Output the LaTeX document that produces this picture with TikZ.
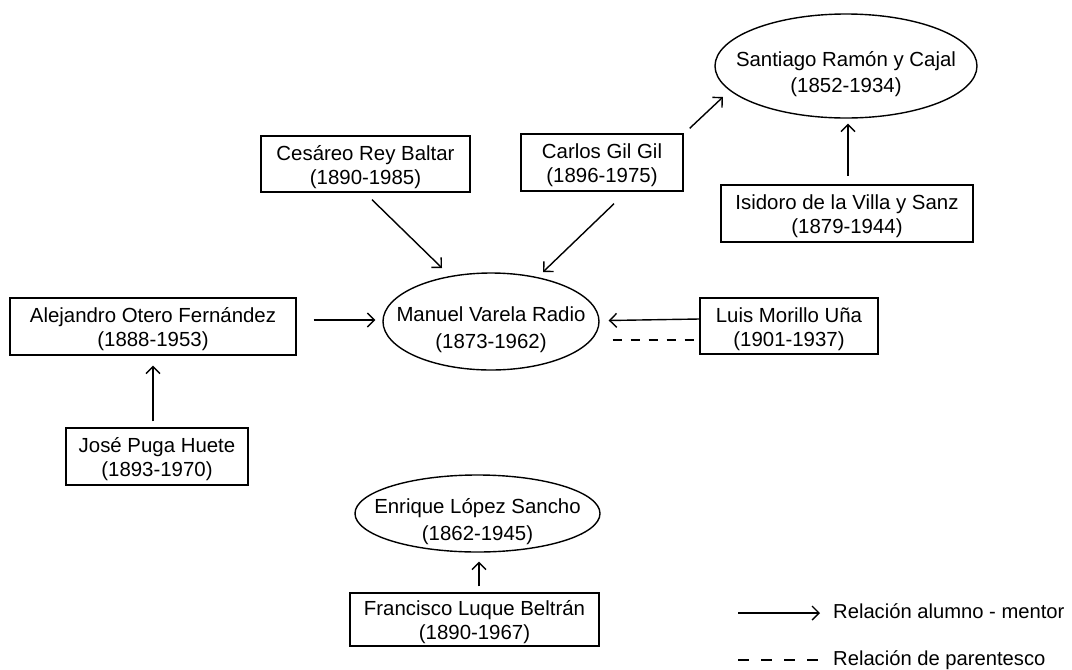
\documentclass[tikz,border=0pt]{standalone}
\usepackage{fontspec}
\setmainfont{Liberation Sans}
\usepackage{tikz}
\usetikzlibrary{shapes,arrows.meta,calc}

\tikzset{
  persona/.style={draw, line width=1.4pt, align=center, inner sep=0pt, font=\fontsize{20.4}{24}\selectfont, text height=40pt, text depth=0pt},
  maestro/.style={draw, ellipse, line width=1.4pt, align=center, inner xsep=-25pt, inner ysep=0pt, font=\fontsize{20.4}{26.5}\selectfont, text height=53pt, text depth=0pt},
  alumno/.style={line width=1.4pt, -{Straight Barb[length=7pt,width=14pt]}},
  parentesco/.style={line width=1.4pt, dash pattern=on 9pt off 9pt}
}

\begin{document}
\begin{tikzpicture}[x=1pt,y=-1pt,font=\fontsize{20.2}{24}\selectfont]
\useasboundingbox (0,0) rectangle (1072,670);

\node[maestro, minimum width=262pt, minimum height=104pt] (cajal) at (846,66) {Santiago Ramón y Cajal\\(1852-1934)};
\node[persona, minimum width=252pt, minimum height=57pt] (isidoro) at (847,213.5) {Isidoro de la Villa y Sanz\\(1879-1944)};
\node[persona, minimum width=162pt, minimum height=57pt] (carlos) at (602,162.5) {Carlos Gil Gil\\(1896-1975)};
\node[persona, minimum width=209pt, minimum height=56pt] (cesareo) at (365.5,164) {Cesáreo Rey Baltar\\(1890-1985)};
\node[maestro, minimum width=216pt, minimum height=97pt] (varela) at (491,321.5) {Manuel Varela Radio\\(1873-1962)};
\node[persona, minimum width=286pt, minimum height=57pt] (otero) at (153,326.5) {Alejandro Otero Fernández\\(1888-1953)};
\node[persona, minimum width=178pt, minimum height=56pt] (morillo) at (789,326) {Luis Morillo Uña\\(1901-1937)};
\node[persona, minimum width=182pt, minimum height=57pt] (puga) at (157,456.5) {José Puga Huete\\(1893-1970)};
\node[maestro, minimum width=245pt, minimum height=77pt] (lopez) at (477.5,513.5) {Enrique López Sancho\\(1862-1945)};
\node[persona, minimum width=249pt, minimum height=53pt] (luque) at (474.5,619.5) {Francisco Luque Beltrán\\(1890-1967)};

\draw[alumno] ($(isidoro.north)+(1,-8.5)$) -- ($(cajal.south)+(2,5)$);
\draw[alumno] ($(carlos.north east)+(6,-5)$) -- ($(cajal)+(-123,31)$);
\draw[alumno] ($(cesareo.south)+(6.5,7)$) -- ($(varela)+(-49,-53.5)$);
\draw[alumno] ($(carlos.south)+(12,12)$) -- ($(varela)+(52,-49.5)$);
\draw[alumno] ($(otero.east)+(17,-6.5)$) -- ($(varela.west)+(-7,-1.5)$);
\draw[alumno] ($(morillo.west)+(0,-7)$) -- ($(varela.east)+(9,-1)$);
\draw[parentesco] ($(varela.east)+(13,18.5)$) -- ($(morillo.west)+(0,14)$);
\draw[alumno] ($(puga.north)+(-4,-6)$) -- ($(otero.south)+(0,10)$);
\draw[alumno] ($(luque.north)+(4.5,-6)$) -- ($(lopez.south)+(1.5,9)$);

% leyenda
\coordinate (alumnoA) at (738,613);
\coordinate (alumnoB) at (820,613);
\coordinate (parentA) at (738,660);
\coordinate (parentB) at (820,660);
\draw[alumno] (alumnoA) -- (alumnoB);
\draw[line width=1.4pt, dash pattern=on 11pt off 12pt] (parentA) -- (parentB);
\node[anchor=base west, inner sep=0pt] (txtalumno) at (833,618) {Relación alumno - mentor};
\node[anchor=base west, inner sep=0pt] (txtparent) at (833,665) {Relación de parentesco};
\end{tikzpicture}
\end{document}
